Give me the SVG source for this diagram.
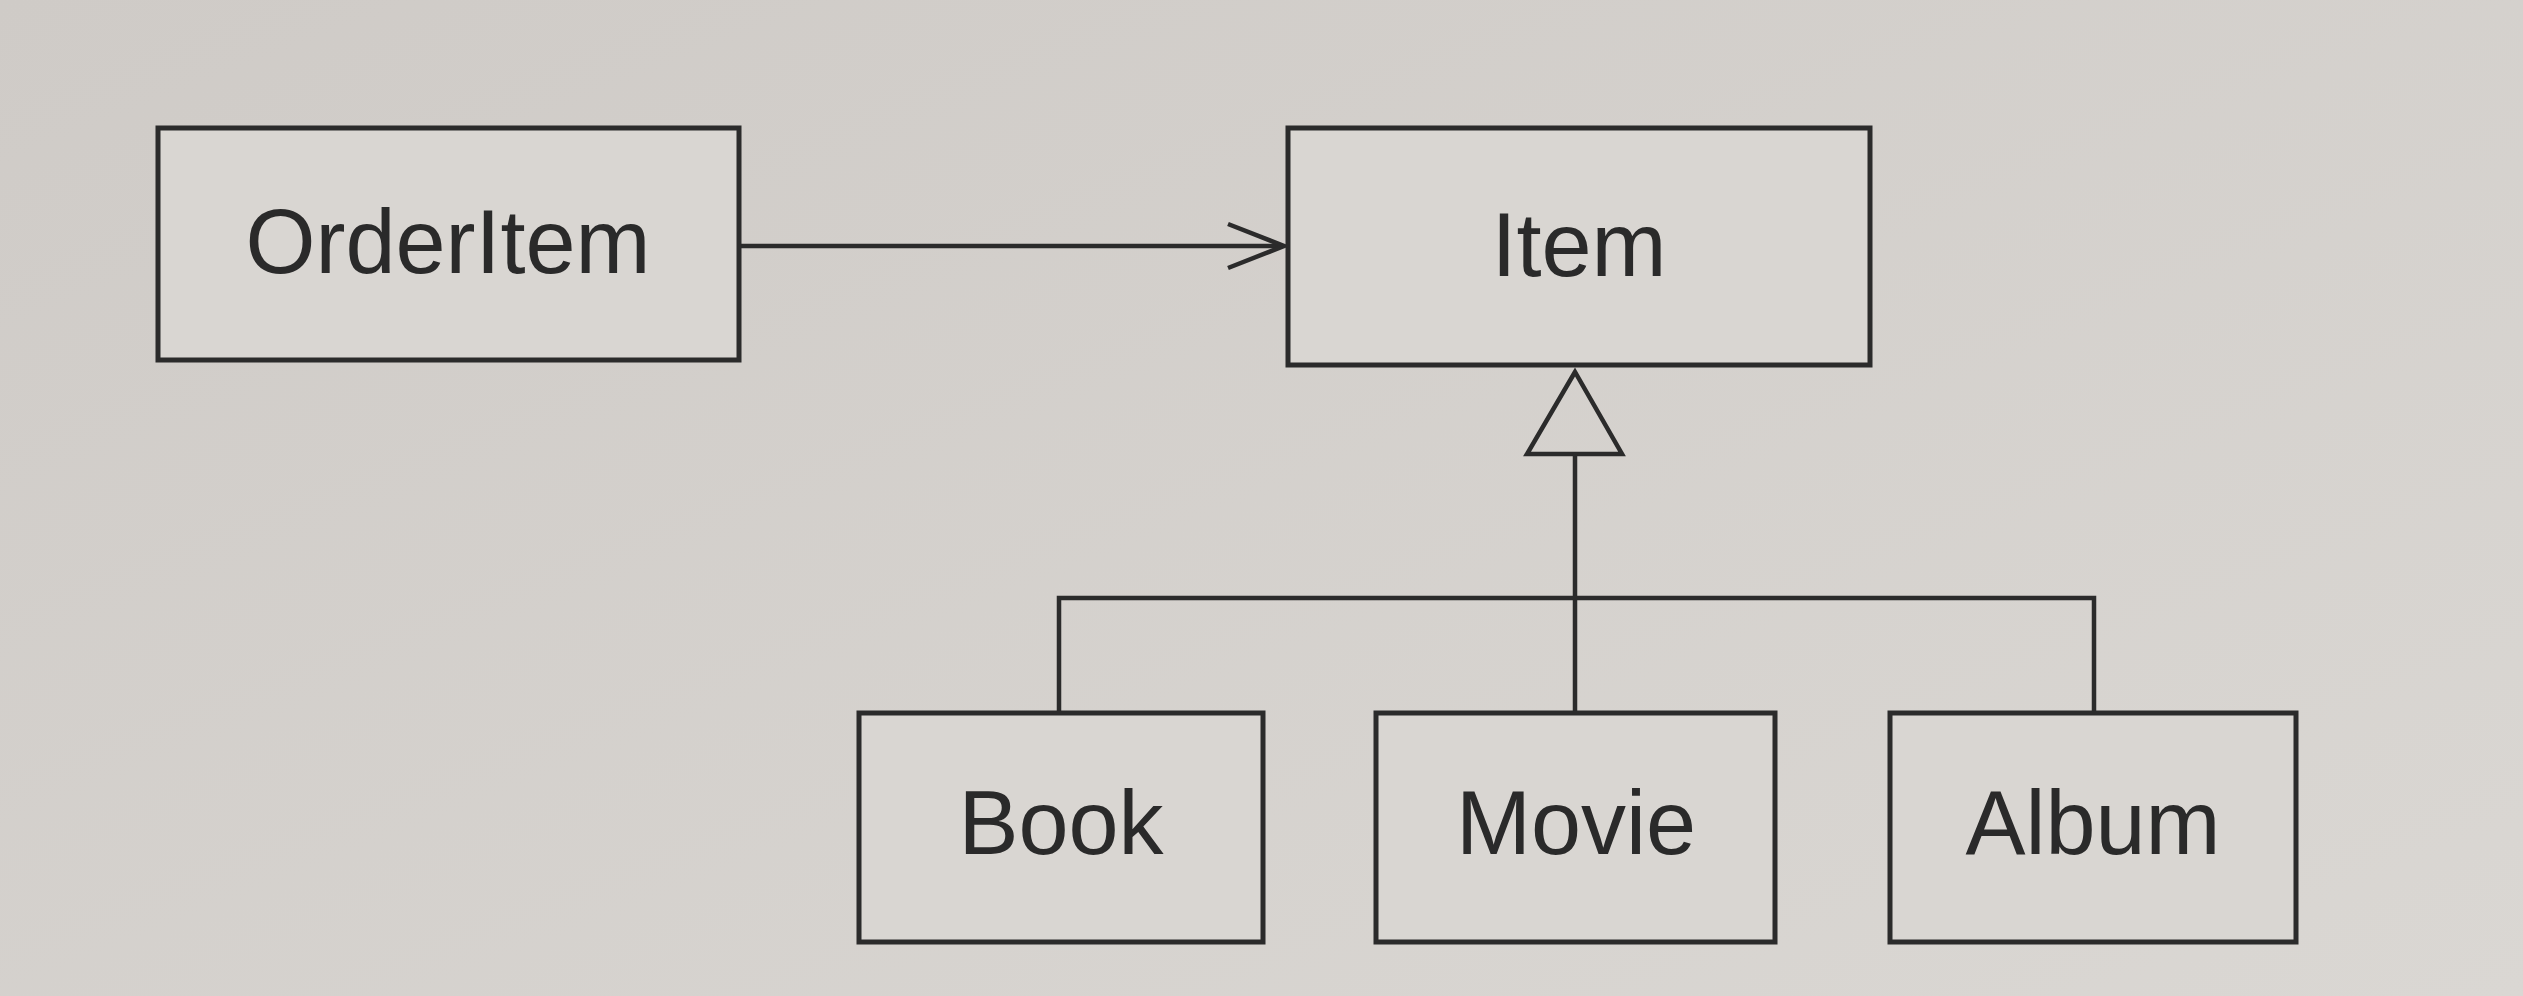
<svg xmlns="http://www.w3.org/2000/svg" width="2523" height="996" viewBox="0 0 2523 996">
  <style>
    .box { fill: #d9d6d2; stroke: #2b2b2b; stroke-width: 5; }
    .lbl { font-family: "Liberation Sans", Arial, sans-serif; font-size: 90px; fill: #2a2a2a; text-anchor: middle; }
    .ln { fill: none; stroke: #2b2b2b; stroke-width: 4.5; stroke-linejoin: miter; }
  </style>
  <defs>
    <linearGradient id="bg" x1="0" y1="0" x2="1" y2="1">
      <stop offset="0" stop-color="#cfcbc7"/>
      <stop offset="1" stop-color="#dad7d3"/>
    </linearGradient>
  </defs>
  <rect width="2523" height="996" fill="url(#bg)"/>

  <g id="connectors">
    <line class="ln" x1="741" y1="246" x2="1280" y2="246"/>
    <polyline class="ln" points="1228,224 1284,246 1228,268"/>
    <polygon class="ln" points="1575,372 1527,454 1622,454"/>
    <line class="ln" x1="1575" y1="454" x2="1575" y2="713"/>
    <polyline class="ln" points="1059,713 1059,598 2094,598 2094,713"/>
  </g>

  <g id="OrderItem">
    <rect class="box" x="158" y="128" width="581" height="232"/>
    <text class="lbl" x="448" y="273">OrderItem</text>
  </g>
  <g id="Item">
    <rect class="box" x="1288" y="128" width="582" height="237"/>
    <text class="lbl" x="1579" y="276">Item</text>
  </g>
  <g id="Book">
    <rect class="box" x="859" y="713" width="404" height="229"/>
    <text class="lbl" x="1061" y="854">Book</text>
  </g>
  <g id="Movie">
    <rect class="box" x="1376" y="713" width="399" height="229"/>
    <text class="lbl" x="1576" y="854">Movie</text>
  </g>
  <g id="Album">
    <rect class="box" x="1890" y="713" width="406" height="229"/>
    <text class="lbl" x="2093" y="854">Album</text>
  </g>
</svg>
